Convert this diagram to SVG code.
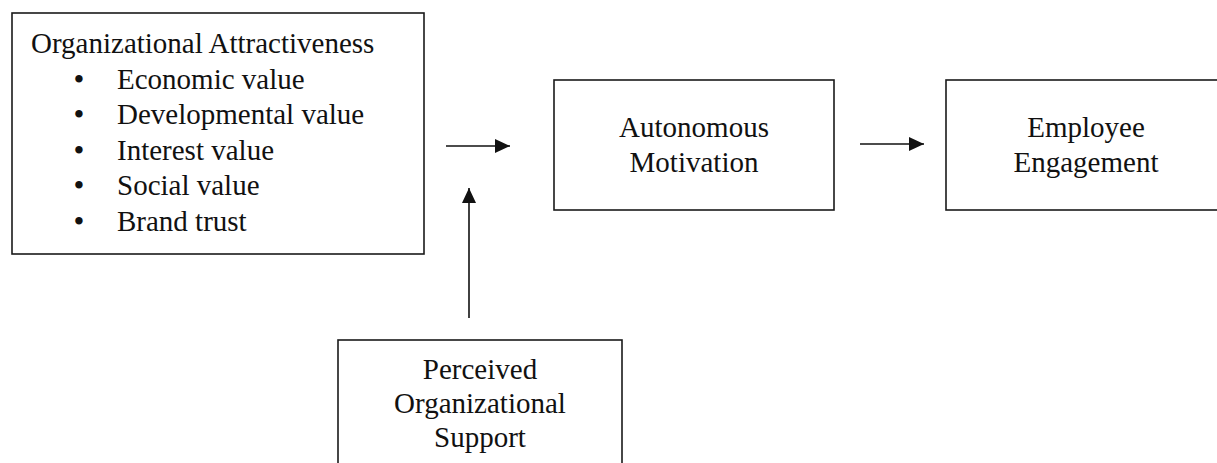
<svg xmlns="http://www.w3.org/2000/svg" width="1217" height="463" viewBox="0 0 1217 463">
<style>
.box{fill:#fff;stroke:#1a1a1a;stroke-width:1.6}
text{font-family:"Liberation Serif","Times New Roman",serif;font-size:29px;fill:#111}
.c{text-anchor:middle}
.b{text-anchor:middle;font-size:31px}
.line{stroke:#111;stroke-width:1.6;fill:none}
</style>
<defs>
<marker id="ah" markerWidth="15" markerHeight="14" refX="15" refY="7" orient="auto" markerUnits="userSpaceOnUse">
<path d="M0,0 L15,7 L0,14 Z" fill="#111"/>
</marker>
</defs>
<rect width="1217" height="463" fill="#fff"/>
<g id="node-oa">
<rect class="box" x="12" y="13" width="412" height="241"/>
<text x="31" y="53">Organizational Attractiveness</text>
<text x="79" y="90" class="b">•</text><text x="117" y="89">Economic value</text>
<text x="79" y="125" class="b">•</text><text x="117" y="124">Developmental value</text>
<text x="79" y="161" class="b">•</text><text x="117" y="160">Interest value</text>
<text x="79" y="196" class="b">•</text><text x="117" y="195">Social value</text>
<text x="79" y="232" class="b">•</text><text x="117" y="231">Brand trust</text>
</g>
<g id="node-am">
<rect class="box" x="554" y="80" width="280" height="130"/>
<text x="694" y="137" class="c">Autonomous</text>
<text x="694" y="172" class="c">Motivation</text>
</g>
<g id="node-ee">
<rect class="box" x="946" y="80" width="280" height="130"/>
<text x="1086" y="137" class="c">Employee</text>
<text x="1086" y="172" class="c">Engagement</text>
</g>
<g id="node-pos">
<rect class="box" x="338" y="340" width="284" height="140"/>
<text x="480" y="379" class="c">Perceived</text>
<text x="480" y="413" class="c">Organizational</text>
<text x="480" y="447" class="c">Support</text>
</g>
<g id="connectors">
<line class="line" x1="446" y1="146" x2="510" y2="146" marker-end="url(#ah)"/>
<line class="line" x1="860" y1="144" x2="924" y2="144" marker-end="url(#ah)"/>
<line class="line" x1="469" y1="318" x2="469" y2="188" marker-end="url(#ah)"/>
</g>
</svg>
